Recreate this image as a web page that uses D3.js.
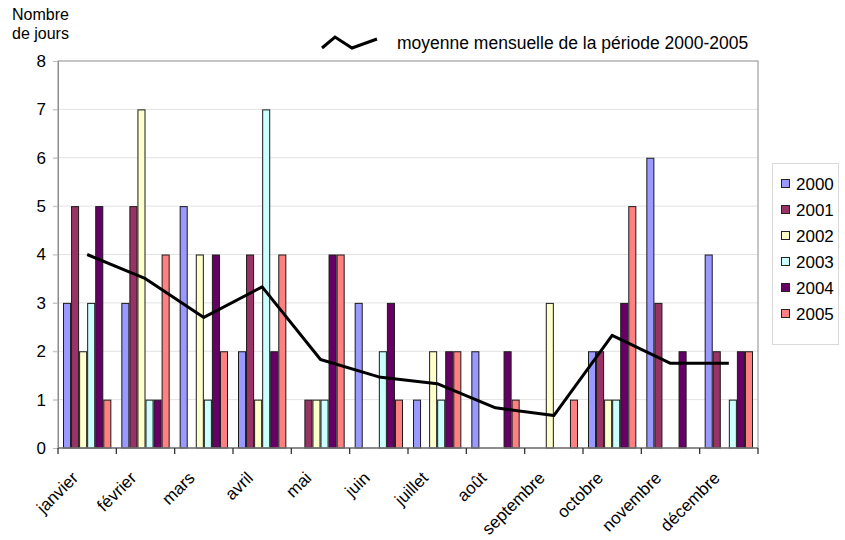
<!DOCTYPE html>
<html lang="fr">
<head>
<meta charset="utf-8">
<script src="https://cdn.jsdelivr.net/npm/d3@7"></script>
<style>
  html, body { margin: 0; padding: 0; background: #fff; }
  svg { display: block; font-family: "Liberation Sans", Arial, sans-serif; }
</style>
</head>
<body>
<svg id="chart" width="845" height="540"></svg>
<script>
// Mois et années
const months = ["janvier", "février", "mars", "avril", "mai", "juin",
                "juillet", "août", "septembre", "octobre", "novembre", "décembre"];
const years = ["2000", "2001", "2002", "2003", "2004", "2005"];

// Nombre de jours par mois, pour chaque année
const v2000 = [3, 3, 5, 2, 0, 3, 1, 2, 0, 2, 6, 4];
const v2001 = [5, 5, 0, 4, 1, 0, 0, 0, 0, 2, 3, 2];
const v2002 = [2, 7, 4, 1, 1, 0, 2, 0, 3, 1, 0, 0];
const v2003 = [3, 1, 1, 7, 1, 2, 1, 0, 0, 1, 0, 1];
const v2004 = [5, 1, 4, 2, 4, 3, 2, 2, 0, 3, 2, 2];
const v2005 = [1, 4, 2, 4, 4, 1, 2, 1, 1, 5, 0, 2];

// Moyenne mensuelle 2000-2005
const meanValues = [4.0, 3.5, 2.7, 3.33, 1.83, 1.47, 1.33, 0.83, 0.67, 2.33, 1.75, 1.75];

const yTicks = [0, 1, 2, 3, 4, 5, 6, 7, 8];
const yearColors = ["#9999FF", "#993366", "#FFFFCC", "#CCFFFF", "#660066", "#FF8080"];
const lineLabel = "moyenne mensuelle de la période 2000-2005";

const series = [v2000, v2001, v2002, v2003, v2004, v2005];

const svg = d3.select("#chart");
const plot = { left: 58, right: 758, top: 61, bottom: 448 };

const x0 = d3.scaleBand().domain(months).range([plot.left, plot.right]).padding(0);
const x1 = d3.scaleBand().domain(years).range([5, x0.bandwidth() - 5]).padding(0);
const y = d3.scaleLinear().domain([0, 8]).range([plot.bottom, plot.top]);
const color = d3.scaleOrdinal().domain(years).range(yearColors);

// Quadrillage horizontal
svg.append("g")
  .selectAll("line")
  .data(yTicks.filter(d => d > 0 && d < 8))
  .join("line")
  .attr("x1", plot.left - 5).attr("x2", plot.right)
  .attr("y1", d => y(d)).attr("y2", d => y(d))
  .attr("stroke", "#e2e2e2").attr("stroke-width", 1);

// Cadre de la zone de tracé
svg.append("rect")
  .attr("x", plot.left).attr("y", plot.top)
  .attr("width", plot.right - plot.left).attr("height", plot.bottom - plot.top)
  .attr("fill", "none").attr("stroke", "#8c8c8c").attr("stroke-width", 1);

// Axe vertical
const yAxis = svg.append("g")
  .attr("transform", `translate(${plot.left},0)`)
  .call(d3.axisLeft(y).tickValues(yTicks).tickSize(5).tickPadding(7));
yAxis.select(".domain").attr("stroke", "#8c8c8c");
yAxis.selectAll(".tick line").attr("stroke", "#bdbdbd");
yAxis.selectAll(".tick text")
  .attr("font-size", 17).attr("fill", "#000")
  .attr("font-family", "Liberation Sans, Arial, sans-serif");

// Barres
const groups = svg.append("g")
  .selectAll("g")
  .data(months.map((m, i) => ({ month: m, values: series.map((s, k) => ({ year: years[k], value: s[i] })) })))
  .join("g")
  .attr("transform", d => `translate(${x0(d.month)},0)`);

groups.selectAll("rect")
  .data(d => d.values.filter(v => v.value > 0))
  .join("rect")
  .attr("x", d => x1(d.year) + 0.5)
  .attr("y", d => y(d.value) + 0.5)
  .attr("width", x1.bandwidth() - 1)
  .attr("height", d => y(0) - y(d.value) - 0.5)
  .attr("fill", d => color(d.year))
  .attr("stroke", "#1a1a1a").attr("stroke-width", 1);

// Axe horizontal
const xAxis = svg.append("g")
  .attr("transform", `translate(0,${plot.bottom})`);
xAxis.append("line")
  .attr("x1", plot.left).attr("x2", plot.right)
  .attr("y1", 0).attr("y2", 0)
  .attr("stroke", "#7a7a7a").attr("stroke-width", 1.5);
xAxis.selectAll("line.sep")
  .data(months.map(m => x0(m)).concat([plot.right]))
  .join("line")
  .attr("class", "sep")
  .attr("x1", d => d).attr("x2", d => d)
  .attr("y1", 0).attr("y2", 6)
  .attr("stroke", "#333").attr("stroke-width", 1.3);

xAxis.selectAll("text")
  .data(months)
  .join("text")
  .attr("text-anchor", "end")
  .attr("font-size", 17)
  .attr("fill", "#000")
  .attr("transform", d => `translate(${x0(d) + x0.bandwidth() / 2 - 8},${31}) rotate(-45)`)
  .text(d => d);

// Courbe de la moyenne mensuelle
const line = d3.line()
  .x((d, i) => x0(months[i]) + x0.bandwidth() / 2)
  .y(d => y(d));
svg.append("path")
  .datum(meanValues)
  .attr("d", line)
  .attr("fill", "none")
  .attr("stroke", "#000").attr("stroke-width", 3)
  .attr("stroke-linejoin", "round");

// Titre de l'axe vertical
const yTitle = svg.append("text").attr("font-size", 16).attr("fill", "#000");
yTitle.append("tspan").attr("x", 12).attr("y", 20).text("Nombre");
yTitle.append("tspan").attr("x", 12).attr("y", 39).text("de jours");

// Légende de la courbe
svg.append("path")
  .attr("d", d3.line()([[322, 48], [335, 37], [352, 48], [377, 39]]))
  .attr("fill", "none").attr("stroke", "#000").attr("stroke-width", 3);
svg.append("text")
  .attr("x", 397).attr("y", 49)
  .attr("font-size", 17.5).attr("fill", "#000")
  .text(lineLabel);

// Légende des années
const legend = svg.append("g");
legend.append("rect")
  .attr("x", 772.5).attr("y", 163.5).attr("width", 66).attr("height", 181)
  .attr("fill", "#fff").attr("stroke", "#d9d9d9");
const items = legend.selectAll("g.item")
  .data(years)
  .join("g")
  .attr("class", "item")
  .attr("transform", (d, i) => `translate(781,${183 + i * 26})`);
items.append("rect")
  .attr("x", 0.5).attr("y", -3.5).attr("width", 8).attr("height", 8)
  .attr("fill", d => color(d)).attr("stroke", "#222");
items.append("text")
  .attr("x", 15).attr("y", 6.5)
  .attr("font-size", 17).attr("fill", "#000")
  .text(d => d);
</script>
</body>
</html>
